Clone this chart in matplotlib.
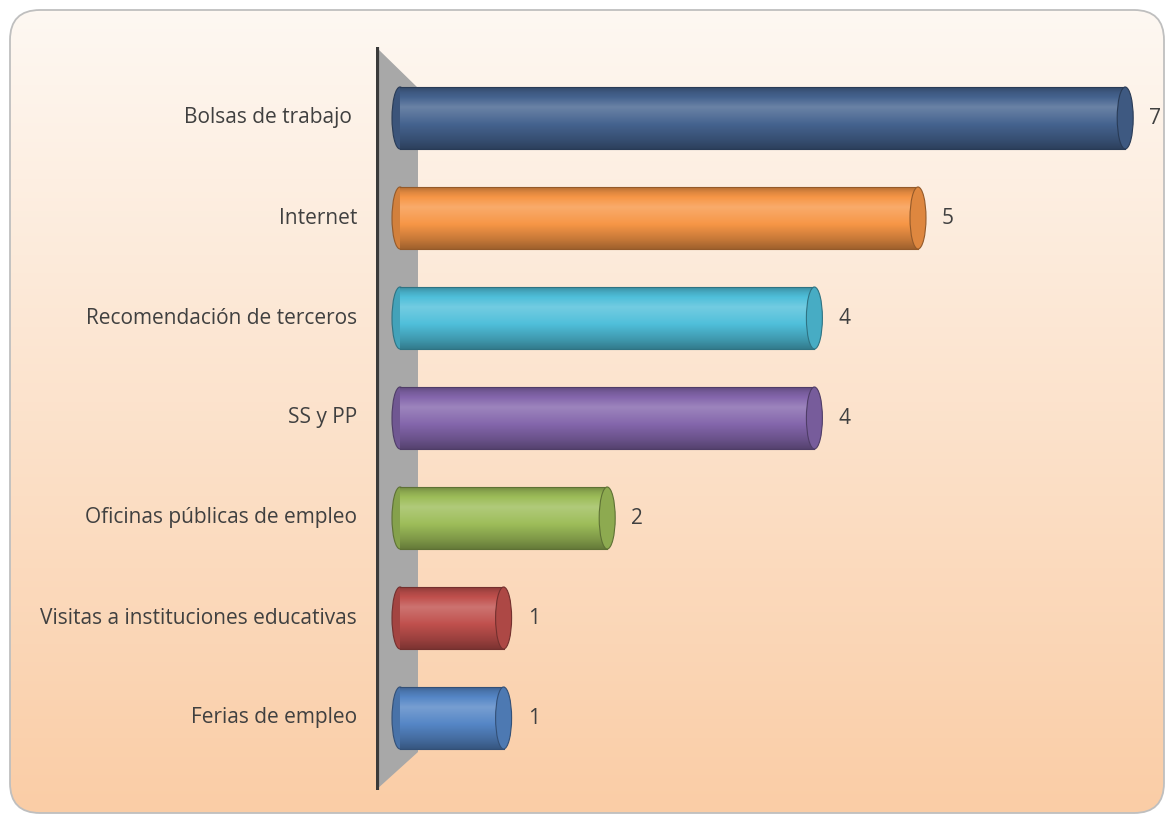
import numpy as np
import matplotlib
matplotlib.use('Agg')
import matplotlib.pyplot as plt
from matplotlib.patches import Ellipse, Polygon, FancyBboxPatch
from matplotlib.colors import to_rgb

categories = ['Bolsas de trabajo ', 'Internet', 'Recomendación de terceros', 'SS y PP',
              'Oficinas públicas de empleo', 'Visitas a instituciones educativas',
              'Ferias de empleo']
values = [7, 5, 4, 4, 2, 1, 1]
colors = ['#45638F', '#F79646', '#4FBFDA', '#8466AC', '#9DBD59', '#C0504D', '#5586C6']

W, H = 1174, 823
fig = plt.figure(figsize=(W / 100, H / 100), dpi=100)

# background with rounded border
bg = fig.add_axes([0, 0, 1, 1])
bg.set_xlim(0, W)
bg.set_ylim(H, 0)
bg.axis('off')
top = np.array([254, 248, 242]) / 255
bot = np.array([250, 205, 166]) / 255
t = np.linspace(0, 1, 256)[:, None]
grad = (top * (1 - t) + bot * t)[:, None, :]
box = FancyBboxPatch((10, 10), W - 20, H - 20, boxstyle='round,pad=0,rounding_size=30',
                     facecolor='none', edgecolor='#BFBFBF', linewidth=1.3, zorder=3)
bg.add_patch(box)
im = bg.imshow(grad, extent=[10, W - 10, H - 10, 10], aspect='auto', zorder=1)
im.set_clip_path(box)

# plot axes: px 376..1150 horizontally, 47..790 vertically
x0px, unit = 400, 103.6
ax = fig.add_axes([376 / W, 1 - 790 / H, (1150 - 376) / W, (790 - 47) / H])
xmin = (376 - x0px) / unit
xmax = (1150 - x0px) / unit
ymin = (47 - 118) / 100
ymax = (790 - 118) / 100
ax.set_xlim(xmin, xmax)
ax.set_ylim(ymax, ymin)
ax.axis('off')

# grey 3D wall
xwall = (418 - x0px) / unit
wall = Polygon([(xmin, ymin), (xwall, (88 - 118) / 100), (xwall, (752 - 118) / 100), (xmin, ymax)],
               closed=True, facecolor='#A8A8A8', edgecolor='none', zorder=1)
ax.add_patch(wall)
ax.plot([xmin + 0.012, xmin + 0.012], [ymin, ymax], color='#3A3A3A', lw=3, zorder=2,
        solid_capstyle='butt')

bh = 0.62
capw = 16 / unit
prof_t = [0, 0.08, 0.32, 0.55, 0.85, 1]
prof_f = [0.75, 0.9, 1.2, 1.04, 0.8, 0.65]

for i, (v, c) in enumerate(zip(values, colors)):
    rgb = np.array(to_rgb(c))
    tt = np.linspace(0, 1, 64)
    f = np.interp(tt, prof_t, prof_f)
    rows = []
    for fv in f:
        if fv > 1:
            rows.append(rgb + (1 - rgb) * (fv - 1))
        else:
            rows.append(rgb * fv)
    body = np.clip(np.array(rows), 0, 1)[:, None, :]
    edge = rgb * 0.6
    left = Ellipse((0, i), capw, bh, facecolor=rgb * 0.85, edgecolor=edge, lw=0.8, zorder=3)
    ax.add_patch(left)
    ax.imshow(body, extent=[0, v, i + bh / 2, i - bh / 2], aspect='auto', zorder=4,
              interpolation='bilinear')
    ax.plot([0, v], [i - bh / 2, i - bh / 2], color=edge, lw=0.8, zorder=5)
    ax.plot([0, v], [i + bh / 2, i + bh / 2], color=edge, lw=0.8, zorder=5)
    right = Ellipse((v, i), capw, bh, facecolor=rgb * 0.9, edgecolor=edge, lw=0.8, zorder=6)
    ax.add_patch(right)
    ax.text(v + capw / 2 + 16 / unit, i, str(v), ha='left', va='center', fontsize=15,
            color='#404040', family='Open Sans', zorder=7)
    ax.text(xmin - 19 / unit, i, categories[i], ha='right', va='center', fontsize=15,
            color='#404040', family='Open Sans', zorder=7, clip_on=False)

ax.set_xlim(xmin, xmax)
ax.set_ylim(ymax, ymin)
fig.savefig('out.png', dpi=100)
